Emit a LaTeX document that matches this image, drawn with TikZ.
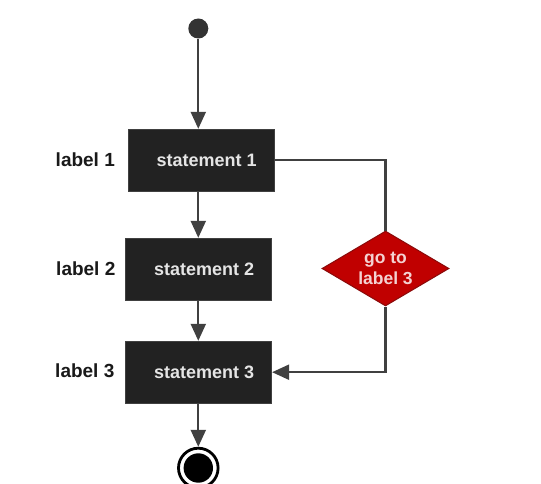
\documentclass[tikz,border=0pt]{standalone}
\usepackage{fontspec}
\setmainfont{Liberation Sans}
\usetikzlibrary{shapes.geometric,arrows.meta}
\definecolor{linegray}{HTML}{404040}
\definecolor{boxfill}{HTML}{222222}
\definecolor{dred}{HTML}{C00000}
\definecolor{dredline}{HTML}{8A0A0A}
\definecolor{ptext}{HTML}{F4D2D2}
\begin{document}
\begin{tikzpicture}[x=1pt,y=-1pt,
  stmt/.style={rectangle, fill=boxfill, draw=black!75, line width=0.8pt, minimum width=146pt, minimum height=62pt, inner sep=0pt, text=white!90!black, font=\fontsize{18}{21}\selectfont\bfseries},
  lbl/.style={anchor=base, font=\fontsize{19}{21}\selectfont\bfseries, text=black!90},
  flow/.style={draw=linegray, line width=2.2pt, -{Triangle[length=17pt,width=15pt]}},
  plain/.style={draw=linegray, line width=2.2pt}]
\useasboundingbox[fill=white] (0,0) rectangle (541,484);
\node[circle, fill=black!80, minimum size=20pt, inner sep=0pt] (start) at (198.3,28.5) {};
\node[stmt] (s1) at (201.2,160.2) {\hspace*{11pt}statement 1};
\node[stmt] (s2) at (198.7,269.2) {\hspace*{11pt}statement 2};
\node[stmt] (s3) at (198.7,372.2) {\hspace*{11pt}statement 3};
\node[lbl] (l1) at (85.3,167) {label 1};
\node[lbl] (l2) at (85.8,275) {label 2};
\node[lbl] (l3) at (84.8,377.7) {label 3};
\node[diamond, fill=dred, draw=dredline, line width=1pt, aspect=1.7, minimum width=127pt, minimum height=75pt, inner sep=0pt, align=center, text=ptext, font=\fontsize{17.5}{20.7}\selectfont\bfseries] (d) at (385.5,268.5) {go to\\label 3};
\node[circle, draw=black, line width=2.8pt, minimum size=39.6pt, inner sep=0pt,
  path picture={\fill[black] (path picture bounding box.center) circle[radius=14.7pt];}] (endn) at (198.3,468) {};
\draw[flow] (start) -- (start |- s1.north);
\draw[flow] (start |- s1.south) -- (start |- s2.north);
\draw[flow] (start |- s2.south) -- (start |- s3.north);
\draw[flow] (start |- s3.south) -- (endn);
\draw[plain] (s1.east) -| (d.north);
\draw[flow] (d.south) |- (s3.east);
\end{tikzpicture}
\end{document}
